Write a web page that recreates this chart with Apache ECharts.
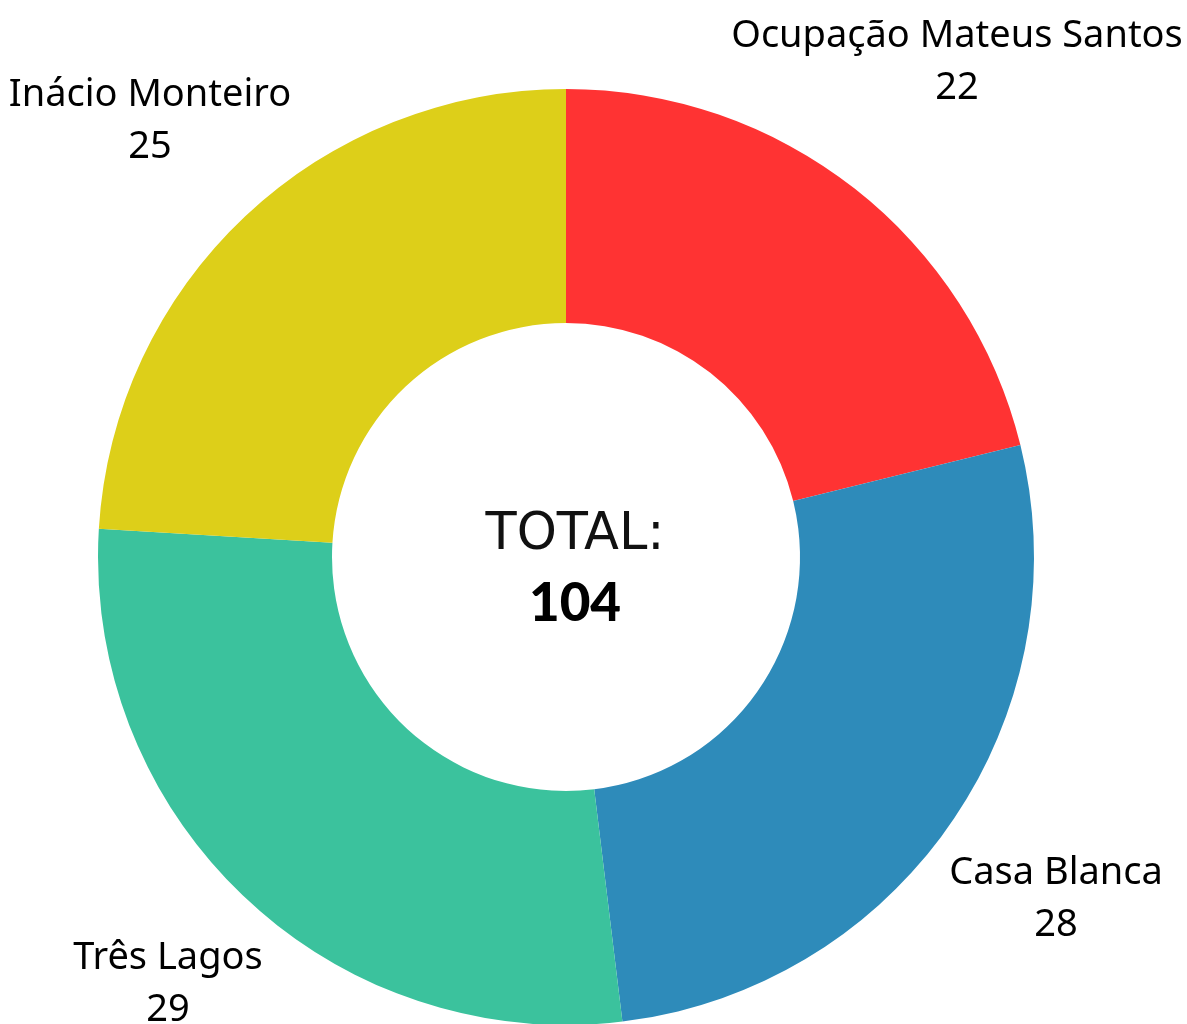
<!DOCTYPE html>
<html lang="pt">

<head>
    <meta charset="UTF-8">
    <title>Total</title>
    <script src="https://cdn.jsdelivr.net/npm/echarts@6.0.0/dist/echarts.min.js"></script>
    <style>
        html, body { margin: 0; padding: 0; background: #fff; }
        #main { width: 1187px; height: 1024px; }
    </style>
</head>

<body>
    <div id="main"></div>

    <script type="text/javascript">
        // data
        var names = ['Ocupação Mateus Santos', 'Casa Blanca', 'Três Lagos', 'Inácio Monteiro']
        var values = [22, 28, 29, 25]
        var colors = ['#ff3333', '#2e8bba', '#3bc29d', '#ddcf19']

        // where each label sits (center of the two text lines)
        var labelPos = [[957, 62], [1056, 899], [168, 984], [150, 121]]

        var total = values.reduce(function (a, b) { return a + b }, 0)

        var chartDom = document.getElementById('main')
        var myChart = echarts.init(chartDom)

        var data = names.map(function (n, i) {
            return { name: n, value: values[i], itemStyle: { color: colors[i] } }
        })

        var option = {
            animation: false,
            title: {
                text: 'TOTAL:',
                subtext: String(total),
                left: 570,
                top: 505,
                textAlign: 'center',
                itemGap: 16,
                textStyle: {
                    fontFamily: 'DejaVu Sans',
                    fontWeight: 'normal',
                    fontSize: 51,
                    color: '#111'
                },
                subtextStyle: {
                    fontFamily: 'Lato',
                    fontWeight: 900,
                    fontSize: 53,
                    color: '#000'
                }
            },
            series: [
                {
                    type: 'pie',
                    center: [566, 557],
                    radius: [234, 468],
                    startAngle: 90,
                    clockwise: true,
                    avoidLabelOverlap: false,
                    itemStyle: { borderWidth: 0 },
                    label: {
                        show: true,
                        position: 'outside',
                        formatter: '{n|{b}}\n{v|{c}}',
                        rich: {
                            n: { fontFamily: 'Noto Sans', fontSize: 38, color: '#000', lineHeight: 52, align: 'center' },
                            v: { fontFamily: 'Noto Sans', fontSize: 38, color: '#000', lineHeight: 52, align: 'center' }
                        }
                    },
                    labelLine: { show: false },
                    labelLayout: function (params) {
                        var p = labelPos[params.dataIndex]
                        return { x: p[0], y: p[1], align: 'center', verticalAlign: 'middle' }
                    },
                    emphasis: { disabled: true },
                    data: data
                }
            ]
        }

        option && myChart.setOption(option)
    </script>
</body>

</html>
